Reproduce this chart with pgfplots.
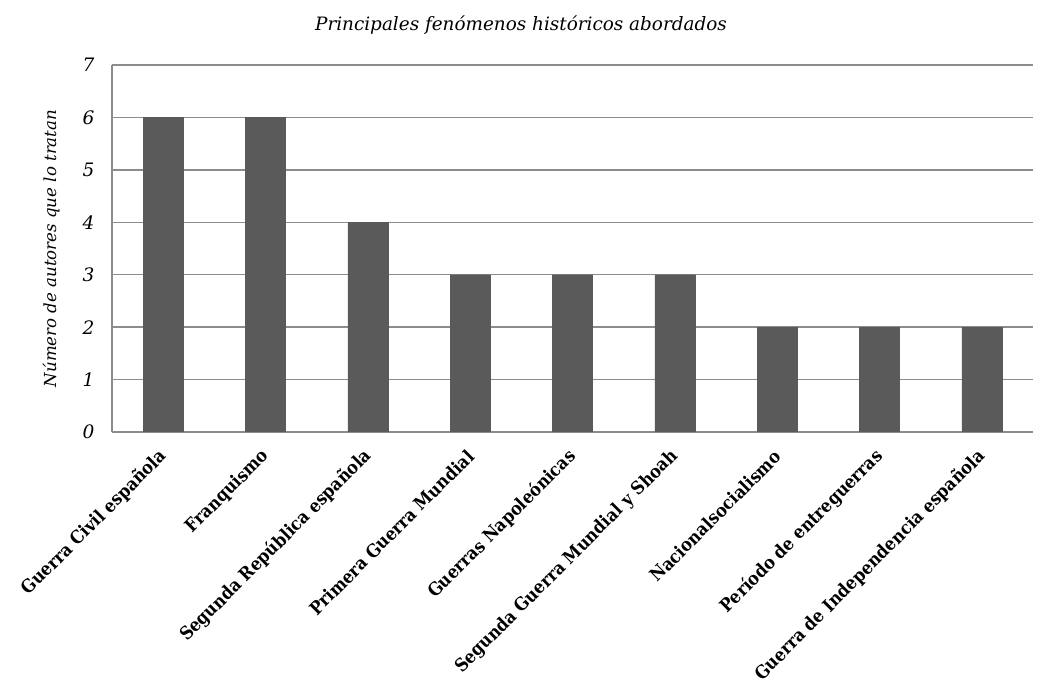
\documentclass[border=0pt]{standalone}
\usepackage{fontspec}
\setmainfont{DejaVu Serif}
\newfontfamily\labelfont{DejaVu Serif Condensed}
\usepackage{pgfplots}
\pgfplotsset{compat=1.18}

\definecolor{barfill}{HTML}{5A5A5A}
\definecolor{gridgray}{HTML}{8C8C8C}

\begin{document}
\begin{tikzpicture}[x=1pt,y=1pt]
\useasboundingbox (0,0) rectangle (1040,684);
\node[font=\fontsize{18.4}{21}\selectfont\itshape] at (521,659) {Principales fenómenos históricos abordados};
\begin{axis}[
  at={(112pt,252pt)}, anchor=south west,
  scale only axis, width=921pt, height=367pt,
  xmin=-0.5, xmax=8.5, ymin=0, ymax=7,
  axis x line*=bottom, axis y line*=left,
  axis line style={draw=gridgray, line width=1.3pt, -},
  ytick={0,1,2,3,4,5,6,7},
  xtick={0,1,2,3,4,5,6,7,8},
  xticklabels={Guerra Civil española, Franquismo, Segunda República española, Primera Guerra Mundial, Guerras Napoleónicas, Segunda Guerra Mundial y Shoah, Nacionalsocialismo, Período de entreguerras, Guerra de Independencia española},
  major tick length=0pt,
  ymajorgrids, grid style={draw=gridgray, line width=1.3pt},
  /pgf/number format/assume math mode=true,
  yticklabel style={font=\fontsize{18.5}{20}\selectfont\itshape, xshift=-14pt},
  xticklabel style={font=\fontsize{18}{20}\labelfont\bfseries, xshift=3pt, yshift=-19pt, rotate=45, anchor=east},
  ylabel={Número de autores que lo tratan},
  ylabel style={font=\fontsize{16.6}{19}\selectfont\itshape, at={(axis description cs:-0.066,0.5)}, anchor=center, rotate=0},
  ybar, bar width=40pt,
]
\addplot[fill=barfill, draw=barfill, bar shift=0pt] coordinates {
  (0,6) (1,6) (2,4) (3,3) (4,3) (5,3) (6,2) (7,2) (8,2)
};
\end{axis}
\end{tikzpicture}
\end{document}
